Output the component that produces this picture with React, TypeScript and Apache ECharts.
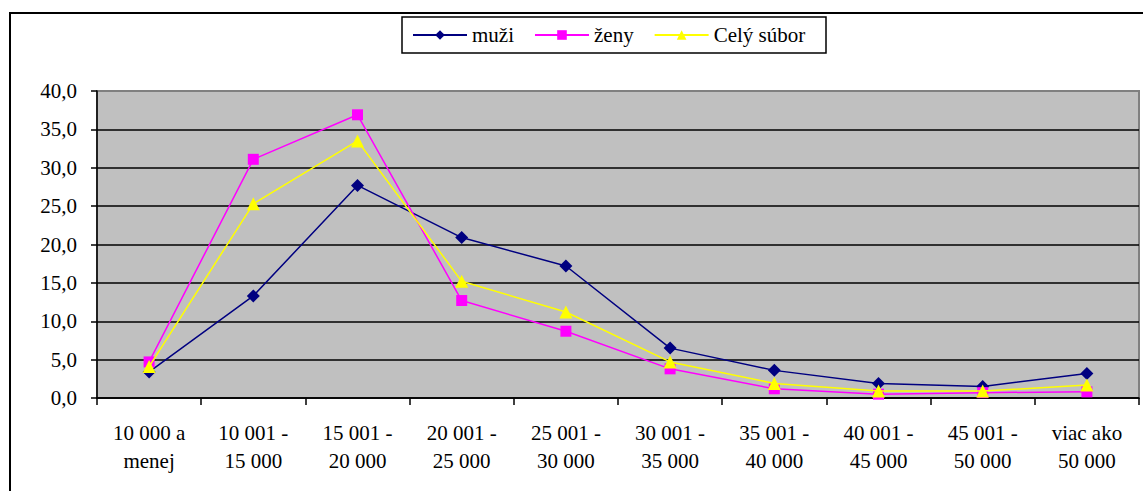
import React, { useEffect, useRef } from "react";
import * as echarts from "echarts";

const categories = [
  "10 000 a\nmenej",
  "10 001 -\n15 000",
  "15 001 -\n20 000",
  "20 001 -\n25 000",
  "25 001 -\n30 000",
  "30 001 -\n35 000",
  "35 001 -\n40 000",
  "40 001 -\n45 000",
  "45 001 -\n50 000",
  "viac ako\n50 000",
];
const muzi = [3.4, 13.3, 27.7, 20.9, 17.2, 6.5, 3.6, 1.9, 1.5, 3.2];
const zeny = [4.7, 31.1, 36.9, 12.7, 8.7, 3.8, 1.2, 0.5, 0.7, 0.8];
const cely = [4.1, 25.3, 33.5, 15.2, 11.2, 4.7, 1.9, 0.9, 0.9, 1.7];
const seriesNames = ["muži", "ženy", "Celý súbor"];

const FONT = "Liberation Serif";
const FS = 21;

export default function App() {
  const ref = useRef<HTMLDivElement>(null);
  useEffect(() => {
    if (!ref.current) return;
    const chart = echarts.init(ref.current, null, { renderer: "svg" });
    const gridLineColors = ["#000", "#000", "#000", "#000", "#000", "#000", "#000", "#000", "#808080"];
    chart.setOption({
      animation: false,
      backgroundColor: "#fff",
      textStyle: { fontFamily: FONT },
      graphic: [
        {
          type: "rect",
          z: 0,
          shape: { x: 10, y: 13, width: 1145, height: 495 },
          style: { fill: "none", stroke: "#000", lineWidth: 2 },
        },
        {
          type: "rect",
          z: 0,
          shape: { x: 402, y: 17, width: 424, height: 36 },
          style: { fill: "#fff", stroke: "#000", lineWidth: 1.5 },
        },
      ],
      legend: {
        left: 412,
        top: 24,
        padding: 0,
        itemGap: 20,
        itemWidth: 54,
        itemHeight: 12,
        data: seriesNames,
        textStyle: { fontFamily: FONT, fontSize: FS, color: "#000", lineHeight: 22 },
      },
      grid: {
        left: 97,
        right: 4,
        top: 91,
        bottom: 93,
        show: true,
        backgroundColor: "#C0C0C0",
        borderColor: "#808080",
        borderWidth: 2,
      },
      xAxis: {
        type: "category",
        data: categories,
        boundaryGap: true,
        axisLine: { show: true, lineStyle: { color: "#000", width: 1.5 } },
        axisTick: { show: true, length: 7, interval: 0, lineStyle: { color: "#000", width: 1.5 } },
        axisLabel: {
          interval: 0,
          margin: 21,
          fontFamily: FONT,
          fontSize: FS,
          lineHeight: 28,
          color: "#000",
        },
        splitLine: { show: false },
      },
      yAxis: {
        type: "value",
        min: 0,
        max: 40,
        interval: 5,
        axisLine: { show: true, lineStyle: { color: "#000", width: 1.5 } },
        axisTick: { show: true, length: 6, lineStyle: { color: "#000", width: 1.5 } },
        axisLabel: {
          margin: 20,
          fontFamily: FONT,
          fontSize: FS,
          color: "#000",
          formatter: (v: number) => v.toFixed(1).replace(".", ","),
        },
        splitLine: { show: true, lineStyle: { color: gridLineColors, width: 1.5 } },
      },
      series: [
        {
          name: seriesNames[0],
          type: "line",
          data: muzi,
          symbol: "diamond",
          symbolSize: 13,
          itemStyle: { color: "#000080" },
          lineStyle: { color: "#000080", width: 1.5 },
          z: 2,
        },
        {
          name: seriesNames[1],
          type: "line",
          data: zeny,
          symbol: "rect",
          symbolSize: 11,
          itemStyle: { color: "#FF00FF" },
          lineStyle: { color: "#FF00FF", width: 1.5 },
          z: 3,
        },
        {
          name: seriesNames[2],
          type: "line",
          data: cely,
          symbol: "triangle",
          symbolSize: 13,
          itemStyle: { color: "#FFFF00" },
          lineStyle: { color: "#FFFF00", width: 1.5 },
          z: 4,
        },
      ],
    });
    return () => chart.dispose();
  }, []);
  return (
    <div
      ref={ref}
      style={{ position: "fixed", left: 0, top: 0, width: 1143, height: 491 }}
    />
  );
}
